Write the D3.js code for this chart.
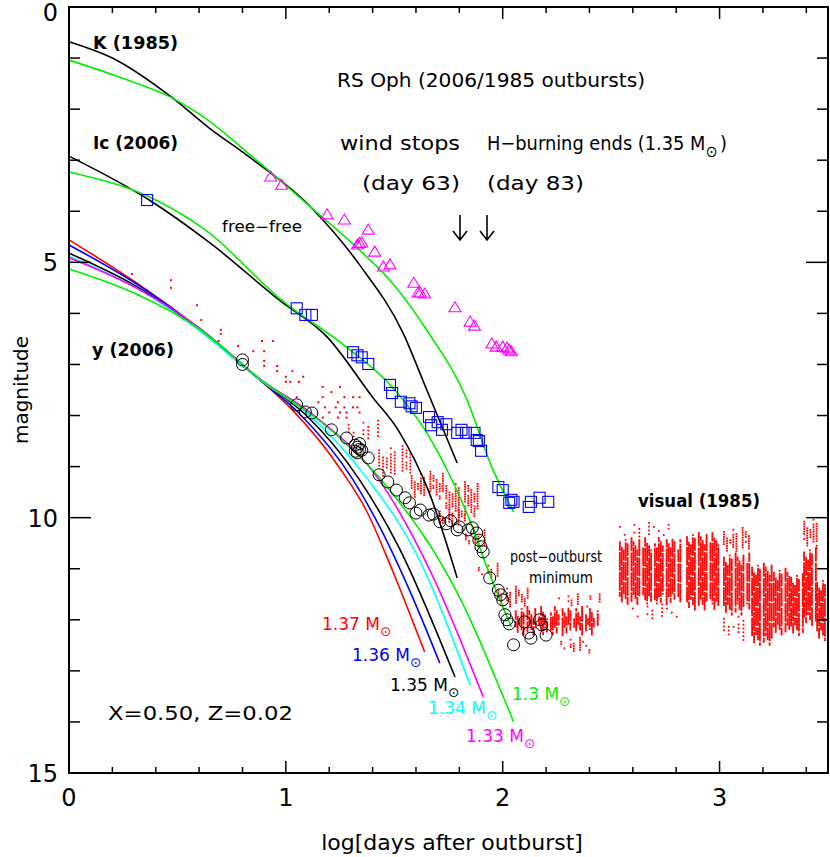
<!DOCTYPE html>
<html><head><meta charset="utf-8">
<script src="https://cdn.jsdelivr.net/npm/d3@7"></script>
<style>body{margin:0;background:#fff}text{font-family:"DejaVu Sans",sans-serif}</style>
</head><body><svg id="c" width="830" height="857"></svg>
<script>
// model light curves [log t, mag]
const kBlack = [[0,0.68],[0.2,1.0],[0.48,1.79],[0.65,2.38],[0.82,2.9],[1.12,3.94],[1.34,5.05],[1.54,6.38],[1.65,7.5],[1.79,8.93]]
const kGreen = [[0,1.04],[0.25,1.4],[0.48,1.79],[0.63,2.18],[0.82,2.84],[1.12,3.94],[1.34,4.76],[1.49,5.4],[1.65,6.33],[1.83,7.64],[1.95,9.01],[2.05,9.89]]
const icBlack = [[0,2.92],[0.37,3.78],[0.65,4.62],[0.97,5.74],[1.19,6.46],[1.40,7.64],[1.52,8.3],[1.66,9.5],[1.79,11.18]]
const icGreen = [[0,3.23],[0.4,3.78],[0.63,4.37],[0.98,5.74],[1.28,6.66],[1.49,7.44],[1.65,8.34],[1.75,9.12],[1.86,10.18],[1.92,10.89],[2.04,12.14]]
const yModels = [
  {m:"1.37", c:"#ff0000", pts:[[0,4.56],[0.31,5.4],[0.6,6.3],[0.88,7.3],[1.03,7.89],[1.26,9.1],[1.37,9.85],[1.49,11.02],[1.64,12.63]], lx:322, ly:630},
  {m:"1.36", c:"#0000ff", pts:[[0,4.66],[0.31,5.42],[0.6,6.3],[0.88,7.3],[1.06,7.95],[1.31,9.26],[1.44,10.24],[1.57,11.42],[1.71,12.85]], lx:352, ly:661},
  {m:"1.35", c:"#000000", pts:[[0,4.82],[0.31,5.47],[0.6,6.32],[0.88,7.3],[1.09,7.98],[1.34,9.26],[1.52,10.57],[1.78,13.12]], lx:390, ly:691},
  {m:"1.34", c:"#00ffff", pts:[[0,4.88],[0.31,5.5],[0.6,6.33],[0.88,7.3],[1.11,8.0],[1.38,9.26],[1.60,10.69],[1.85,13.28]], lx:428, ly:714},
  {m:"1.33", c:"#ff00ff", pts:[[0,4.91],[0.31,5.5],[0.6,6.28],[0.88,7.28],[1.13,8.0],[1.43,9.26],[1.67,11.08],[1.91,13.51]], lx:466, ly:742},
  {m:"1.3", c:"#00ee00", pts:[[0,5.13],[0.31,5.62],[0.6,6.3],[0.88,7.28],[1.19,8.22],[1.44,9.26],[1.80,11.55],[2.05,14.0]], lx:512, ly:700}
]
// observations
const kObs = [[0.93,3.33],[0.98,3.49],[1.19,4.07],[1.27,4.17],[1.38,4.37],[1.33,4.66],[1.34,4.63],[1.35,4.62],[1.41,4.8],[1.45,5.09],[1.48,5.05],[1.59,5.41],[1.61,5.6],[1.62,5.6],[1.64,5.62],[1.78,5.89],[1.85,6.17],[1.87,6.25],[1.95,6.6],[1.97,6.66],[2.0,6.66],[2.02,6.68],[2.03,6.72],[2.04,6.75]]
const icObs = [[0.36,3.78],[1.05,5.9],[1.09,6.03],[1.12,6.03],[1.31,6.76],[1.33,6.82],[1.35,6.86],[1.38,6.99],[1.48,7.4],[1.49,7.56],[1.53,7.73],[1.57,7.76],[1.60,7.85],[1.58,7.82],[1.66,8.03],[1.67,8.19],[1.70,8.13],[1.72,8.28],[1.74,8.17],[1.79,8.34],[1.81,8.28],[1.83,8.34],[1.87,8.34],[1.88,8.48],[1.89,8.5],[1.90,8.69],[1.98,9.4],[2.0,9.46],[2.04,9.65],[2.03,9.71],[2.05,9.69],[2.12,9.79],[2.13,9.69],[2.17,9.61],[2.21,9.69]]
const yObs = [[0.80,6.91],[0.80,7.0],[1.05,7.79],[1.09,7.93],[1.12,7.95],[1.21,8.28],[1.28,8.44],[1.32,8.58],[1.33,8.62],[1.34,8.66],[1.32,8.7],[1.33,8.73],[1.34,8.55],[1.35,8.68],[1.38,8.83],[1.43,9.16],[1.47,9.3],[1.51,9.46],[1.55,9.61],[1.57,9.71],[1.60,9.91],[1.62,9.85],[1.66,9.95],[1.68,9.93],[1.71,10.08],[1.74,10.12],[1.76,10.06],[1.79,10.24],[1.80,10.18],[1.84,10.24],[1.86,10.2],[1.88,10.3],[1.89,10.44],[1.90,10.57],[1.91,10.67],[1.94,11.18],[1.98,11.42],[1.99,11.51],[2.0,11.61],[2.01,11.9],[2.02,12.0],[2.03,12.08],[2.05,12.49],[2.10,12.04],[2.12,12.26],[2.13,12.36],[2.17,12.0],[2.18,12.1],[2.20,12.3]]
// visual (1985): isolated points and banded clouds [x0, x1, magTop, magBottom, sparseness]
const visualPts = [[0.29,5.23],[0.32,5.64],[0.47,5.35],[0.47,5.5],[0.59,5.84],[0.61,6.13],[0.70,6.32],[0.70,6.4],[0.69,6.54],[0.78,6.64],[0.89,6.54],[0.94,6.54],[0.85,6.74],[0.90,6.74],[0.90,6.93],[0.90,7.03],[0.96,7.03],[0.96,7.13],[1.03,7.13],[1.0,7.24],[1.08,7.24],[1.0,7.34],[1.02,7.34],[1.06,7.34],[1.17,7.44],[1.25,7.44],[1.05,7.64],[1.17,7.64],[1.21,7.54],[1.27,7.64],[1.31,7.64],[1.34,7.64],[1.15,7.74],[1.24,7.74],[1.18,7.84],[1.23,7.84],[1.27,7.84],[1.31,7.84],[1.33,7.84],[1.2,7.94],[1.25,7.94],[1.28,7.94],[1.34,7.94],[1.17,8.04],[1.24,8.04],[1.28,8.04]]
const visualBands = [[1.29,1.43,8.1,8.5,2.5],[1.43,1.58,8.6,9.25,2],[1.58,1.74,9.1,9.65,1.6],[1.74,1.89,9.3,10.0,1.6],[1.71,1.83,9.8,10.2,1.6],[1.83,1.92,10.25,10.6,1.6],[1.89,1.98,10.9,11.2,1.6],[1.98,2.13,11.35,11.75,1.5],[2.06,2.44,11.75,12.3,1],[2.27,2.40,12.35,12.65,1.6],[2.26,2.46,11.5,11.75,1.6],[2.54,2.82,10.4,11.7,1],[2.54,2.82,10.1,10.4,2.5],[2.6,2.82,11.7,12.0,2.5],[2.85,3.01,10.3,11.8,1],[3.02,3.14,10.2,10.7,1.6],[3.02,3.14,10.7,11.9,1],[3.02,3.14,11.9,12.4,2.5],[3.15,3.24,10.9,12.5,1],[3.25,3.33,11.0,12.3,1],[3.33,3.39,11.1,12.3,1],[3.39,3.45,10.0,10.6,1.6],[3.39,3.45,10.6,12.1,1],[3.45,3.5,11.2,12.4,1]]
const xTicks = [0,1,2,3]
const yTicks = [0,5,10,15]

const svg = d3.select("#c")
const L = 69, R = 828, T = 7, B = 773
const x = d3.scaleLinear().domain([0,3.5]).range([L,R])
const y = d3.scaleLinear().domain([0,15]).range([T,B])

// visual dots
const vis = svg.append("g").attr("fill","#ff0000")
visualPts.forEach(d => vis.append("rect").attr("x",x(d[0])-1).attr("y",y(d[1])-1).attr("width",2).attr("height",2))
visualBands.forEach(([x0,x1,m0,m1,s]) => {
  let k = 0
  for (let xv = x0; xv <= x1 + 1e-9; xv += 0.009 * s) {
    k++
    // ragged column ends
    const top = m0 + ((k * 37) % 7) * 0.04, bot = m1 - ((k * 23) % 5) * 0.05
    if (k % 6 === 0) continue
    let j = 0
    for (let mv = top; mv <= bot; mv += 0.03 * s) {
      j++
      if ((k * 5 + j * 3) % 13 === 0) continue
      vis.append("rect").attr("x",x(xv)-0.9).attr("y",y(mv)-0.9).attr("width",1.8).attr("height",1.8)
    }
  }
})

const line = d3.line().x(d => x(d[0])).y(d => y(d[1])).curve(d3.curveMonotoneX)
const drawLine = (pts, c) => svg.append("path").attr("d", line(pts)).attr("fill","none").attr("stroke",c).attr("stroke-width",1.6)
drawLine(kBlack,"#000"); drawLine(kGreen,"#00ee00")
drawLine(icBlack,"#000"); drawLine(icGreen,"#00ee00")
yModels.forEach(m => drawLine(m.pts, m.c))

// markers
svg.append("g").selectAll("path").data(kObs).join("path")
  .attr("d", d => `M${x(d[0])},${y(d[1])-6}l6,10h-12z`).attr("fill","none").attr("stroke","#ff00ff").attr("stroke-width",1.1)
svg.append("g").selectAll("rect").data(icObs).join("rect")
  .attr("x", d => x(d[0])-5.5).attr("y", d => y(d[1])-5.5).attr("width",11).attr("height",11)
  .attr("fill","none").attr("stroke","#0000ff").attr("stroke-width",1.1)
svg.append("g").selectAll("circle").data(yObs).join("circle")
  .attr("cx", d => x(d[0])).attr("cy", d => y(d[1])).attr("r",6)
  .attr("fill","none").attr("stroke","#000").attr("stroke-width",1)

// frame & ticks
svg.append("rect").attr("x",L).attr("y",T).attr("width",R-L).attr("height",B-T).attr("fill","none").attr("stroke","#000").attr("stroke-width",2)
const tk = svg.append("g").attr("stroke","#000").attr("stroke-width",1.5)
d3.range(0,3.51,0.2).forEach(v => {
  const len = Math.abs(v - Math.round(v)) < 1e-6 ? 12 : 6
  tk.append("line").attr("x1",x(v)).attr("x2",x(v)).attr("y1",B).attr("y2",B-len)
  tk.append("line").attr("x1",x(v)).attr("x2",x(v)).attr("y1",T).attr("y2",T+len)
})
d3.range(0,16,1).forEach(v => {
  const len = v % 5 === 0 ? 22 : 11
  tk.append("line").attr("x1",L).attr("x2",L+len).attr("y1",y(v)).attr("y2",y(v))
  tk.append("line").attr("x1",R).attr("x2",R-len).attr("y1",y(v)).attr("y2",y(v))
})
svg.selectAll(".xt").data(xTicks).join("text").attr("x",d=>x(d)).attr("y",806).attr("text-anchor","middle").attr("font-size",24).text(d=>d)
svg.selectAll(".yt").data(yTicks).join("text").attr("x",58).attr("y",d=>Math.max(y(d)+9, 21)).attr("text-anchor","end").attr("font-size",24).text(d=>d)
svg.append("text").attr("x",452).attr("y",850).attr("text-anchor","middle").attr("font-size",22).text("log[days after outburst]")
svg.append("text").attr("transform","translate(28,390) rotate(-90)").attr("text-anchor","middle").attr("font-size",20).text("magnitude")

// annotations
function txt(s, px, py, fs, opts = {}) {
  const t = svg.append("text").attr("x",px).attr("y",py).attr("font-size",fs).attr("fill",opts.c || "#000")
  if (opts.bold) t.attr("font-weight","bold")
  if (opts.w) t.attr("textLength",opts.w).attr("lengthAdjust","spacingAndGlyphs")
  t.text(s)
  return t
}
function sun(t, fs) {
  t.append("tspan").attr("dy", fs*0.35).attr("font-size", fs*0.8).text("\u2299")
}
txt("K (1985)",93,49,17,{bold:true,w:85})
txt("Ic (2006)",93,149,17,{bold:true,w:85})
txt("y (2006)",92,356,17,{bold:true,w:82})
txt("RS Oph (2006/1985 outbursts)",337,87,20,{w:308})
txt("wind stops",340,150,20,{w:120})
txt("(day 63)",362,190,20,{w:98})
const hb = txt("H\u2212burning ends (1.35 M",487,150,20,{w:240})
sun(hb, 20)
hb.append("tspan").attr("dx",3).attr("dy",-7).text(")")
txt("(day 83)",487,190,20,{w:97})
txt("free\u2212free",222,232,15,{w:80})
txt("visual (1985)",638,507,17,{bold:true,w:122})
txt("post\u2212outburst",510,562,15,{w:92})
txt("minimum",529,583,15,{w:64})
txt("X=0.50, Z=0.02",108,720,20,{w:185})
;[460,487].forEach(ax => {
  svg.append("path").attr("d",`M${ax},215V239M${ax-7},231L${ax},240L${ax+7},231`).attr("fill","none").attr("stroke","#000").attr("stroke-width",1.6)
})
yModels.forEach(m => {
  const t = txt(m.m + " M", m.lx, m.ly, 17, {c:m.c})
  sun(t, 17)
})
</script></body></html>
